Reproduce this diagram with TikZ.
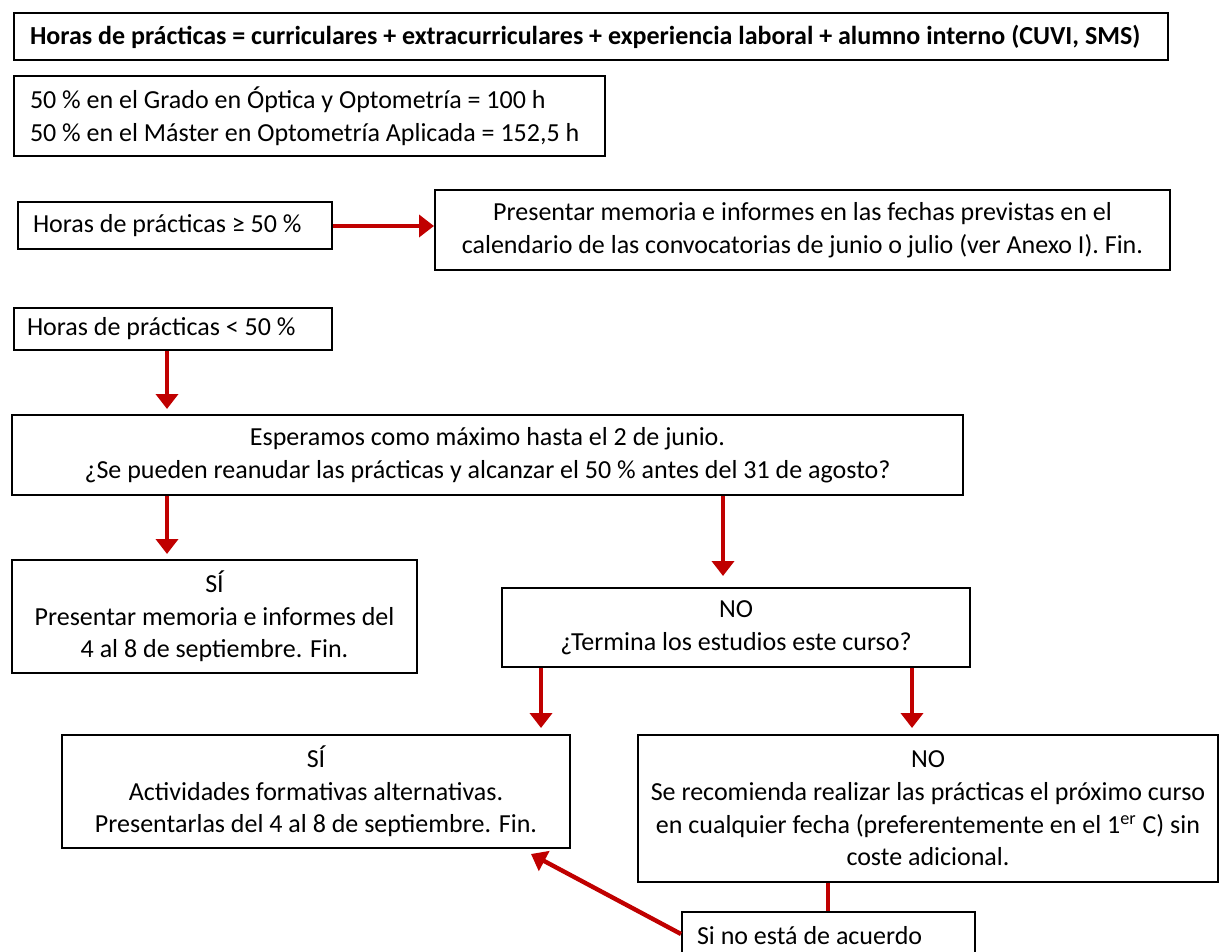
\documentclass[tikz,border=0pt]{standalone}
\usepackage{fontspec}
\setmainfont{Carlito}
\usetikzlibrary{arrows.meta}
\definecolor{rojo}{RGB}{192,0,0}

\begin{document}
\begin{tikzpicture}[x=0.5pt,y=-0.5pt,
  caja/.style={draw,line width=1pt,font=\fontsize{13}{16.3}\selectfont,inner sep=0pt},
  izq/.style={caja,align=flush left},
  centro/.style={caja,align=center},
  flecha/.style={rojo,line width=2.2pt,-{Triangle[width=11pt,length=7.5pt]}},
  linea/.style={rojo,line width=2.2pt}]
\useasboundingbox (0,0) rectangle (1221,952);

% cajas
\node[izq,minimum height=23.5pt,inner xsep=8pt,text width=561pt,font=\fontsize{13}{16.3}\selectfont\bfseries] (total) at (591,36.5)
  {\mbox{Horas de prácticas = curriculares + extracurriculares + experiencia laboral + alumno interno (CUVI, SMS)}};
\node[izq,minimum height=40pt,inner xsep=8pt,text width=279.5pt] (mitad) at (309.5,116)
  {\mbox{50 \% en el Grado en Óptica y Optometría = 100 h}\\\mbox{50 \% en el Máster en Optometría Aplicada = 152,5 h}};
\node[izq,minimum height=23.5pt,inner xsep=7.5pt,text width=142pt] (mayor) at (175,225.5)
  {\mbox{Horas de prácticas ≥ 50 \%}};
\node[centro,minimum width=367.5pt,minimum height=40pt] (memoria) at (802.5,230)
  {Presentar memoria e informes en las fechas previstas en el\\calendario de las convocatorias de junio o julio (ver Anexo I). Fin.};
\node[izq,minimum height=21pt,inner xsep=6.5pt,text width=146pt] (menor) at (173,329)
  {\mbox{Horas de prácticas < 50 \%}};
\node[centro,minimum width=475.5pt,minimum height=40pt] (espera) at (487.5,455)
  {Esperamos como máximo hasta el 2 de junio.\\¿Se pueden reanudar las prácticas y alcanzar el 50 \% antes del 31 de agosto?};
\node[centro,minimum width=202.5pt,minimum height=56.5pt] (si1) at (214.5,616.5)
  {SÍ\\Presentar memoria e informes del\\4 al 8 de septiembre. Fin.};
\node[centro,minimum width=234pt,minimum height=39.5pt] (no1) at (736,627.5)
  {NO\\¿Termina los estudios este curso?};
\node[centro,minimum width=254pt,minimum height=56.5pt] (si2) at (316,791.5)
  {SÍ\\Actividades formativas alternativas.\\Presentarlas del 4 al 8 de septiembre. Fin.};
\node[centro,minimum width=290pt,minimum height=73.5pt] (no2) at (928,808.5)
  {NO\\Se recomienda realizar las prácticas el próximo curso\\en cualquier fecha (preferentemente en el 1\textsuperscript{er} C) sin\\coste adicional.};
\node[izq,minimum height=23.5pt,inner xsep=7.5pt,text width=131.5pt] (acuerdo) at (828.5,935.5)
  {\mbox{Si no está de acuerdo}};

% flechas
\draw[flecha] (mayor.east |- 0,226) -- (memoria.west |- 0,226);
\draw[flecha,shorten >=2.5pt] (menor.south -| 167,0) -- (espera.north -| 167,0);
\draw[flecha,shorten >=2.5pt] (espera.south -| 167,0) -- (si1.north -| 167,0);
\draw[flecha,shorten >=5.5pt] (espera.south -| 723,0) -- (no1.north -| 723,0);
\draw[flecha,shorten >=3pt] (no1.south -| 541,0) -- (si2.north -| 541,0);
\draw[flecha,shorten >=3pt] (no1.south -| 912,0) -- (no2.north -| 912,0);
\draw[linea] (no2.south -| 828,0) -- (acuerdo.north -| 828,0);
\draw[flecha] (acuerdo.west |- 0,934) -- ([xshift=-20pt,yshift=-2.5pt]si2.south east);
\end{tikzpicture}
\end{document}
